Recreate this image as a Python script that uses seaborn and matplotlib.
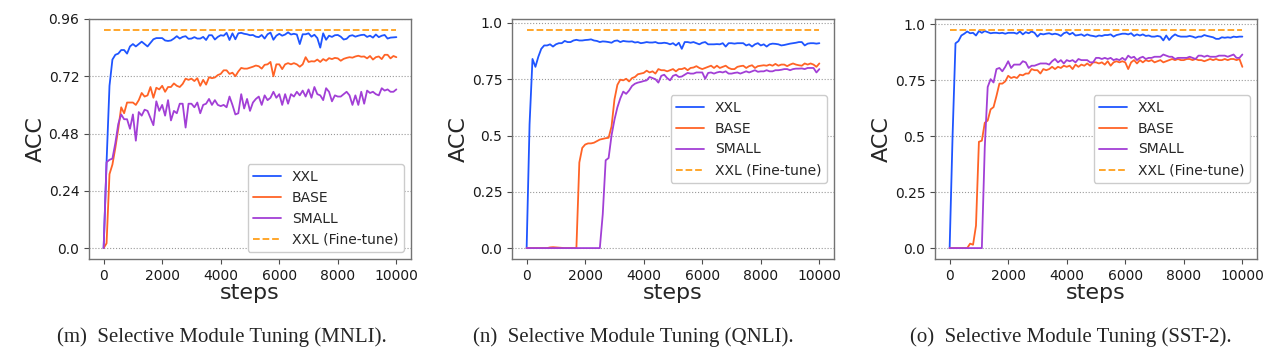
import matplotlib
matplotlib.use("Agg")
import matplotlib.pyplot as plt
import seaborn as sns
import pandas as pd

# --- dane (krok co 100) ---
steps = list(range(0, 10001, 100))

mnli_xxl = [
    0.0, 0.36, 0.68, 0.79, 0.81, 0.815, 0.83, 0.83, 0.815, 0.845,
    0.855, 0.845, 0.855, 0.865, 0.855, 0.845, 0.86, 0.875, 0.88, 0.88,
    0.88, 0.87, 0.868, 0.87, 0.878, 0.888, 0.878, 0.885, 0.888, 0.877,
    0.878, 0.884, 0.878, 0.878, 0.885, 0.872, 0.892, 0.892, 0.874, 0.885,
    0.892, 0.89, 0.902, 0.872, 0.9, 0.875, 0.9, 0.902, 0.898, 0.896,
    0.892, 0.893, 0.886, 0.884, 0.893, 0.878, 0.896, 0.903, 0.873, 0.89,
    0.898, 0.89, 0.895, 0.904, 0.895, 0.898, 0.895, 0.855, 0.896, 0.896,
    0.9, 0.886, 0.894, 0.88, 0.84, 0.9, 0.873, 0.89, 0.885, 0.892,
    0.893, 0.886, 0.874, 0.877, 0.889, 0.892, 0.886, 0.89, 0.893, 0.894,
    0.885, 0.89, 0.882, 0.895, 0.884, 0.89, 0.893, 0.878, 0.882, 0.883,
    0.884,
]
mnli_base = [
    0.0, 0.02, 0.31, 0.35, 0.42, 0.5, 0.59, 0.565, 0.61, 0.61,
    0.61, 0.6, 0.62, 0.65, 0.635, 0.64, 0.675, 0.63, 0.672, 0.665,
    0.68, 0.655, 0.675, 0.675, 0.69, 0.68, 0.675, 0.688, 0.71, 0.705,
    0.71, 0.7, 0.712, 0.68, 0.705, 0.685, 0.716, 0.712, 0.715, 0.725,
    0.73, 0.745, 0.745, 0.73, 0.735, 0.72, 0.74, 0.755, 0.752, 0.752,
    0.756, 0.76, 0.765, 0.762, 0.752, 0.768, 0.77, 0.78, 0.72, 0.77,
    0.77, 0.75, 0.77, 0.775, 0.77, 0.775, 0.77, 0.76, 0.77, 0.8,
    0.78, 0.783, 0.782, 0.79, 0.78, 0.792, 0.785, 0.796, 0.792, 0.797,
    0.795, 0.785, 0.793, 0.797, 0.8, 0.798, 0.803, 0.806, 0.802, 0.803,
    0.795, 0.805, 0.79, 0.8, 0.803, 0.792, 0.81, 0.81, 0.795, 0.805,
    0.8,
]
mnli_small = [
    0.0, 0.36, 0.37, 0.375, 0.44, 0.52, 0.56, 0.54, 0.54, 0.5,
    0.56, 0.45, 0.57, 0.555, 0.58, 0.575, 0.545, 0.515, 0.615, 0.575,
    0.6, 0.555, 0.62, 0.535, 0.575, 0.565, 0.605, 0.605, 0.505, 0.605,
    0.605, 0.59, 0.61, 0.565, 0.6, 0.605, 0.625, 0.6, 0.62, 0.6,
    0.595, 0.6, 0.59, 0.635, 0.6, 0.56, 0.565, 0.645, 0.585, 0.625,
    0.575, 0.61, 0.625, 0.635, 0.6, 0.64, 0.62, 0.63, 0.655, 0.63,
    0.645, 0.6, 0.645, 0.605, 0.645, 0.635, 0.655, 0.64, 0.66, 0.635,
    0.665, 0.63, 0.675, 0.645, 0.64, 0.62, 0.67, 0.655, 0.615, 0.64,
    0.635, 0.635, 0.645, 0.655, 0.64, 0.6, 0.64, 0.6, 0.655, 0.605,
    0.66, 0.65, 0.655, 0.645, 0.64, 0.67, 0.66, 0.665, 0.655, 0.655,
    0.665,
]
mnli_ft = 0.914

qnli_xxl = [
    0.0, 0.55, 0.84, 0.805, 0.85, 0.885, 0.9, 0.9, 0.905, 0.895,
    0.905, 0.91, 0.91, 0.92, 0.915, 0.915, 0.922, 0.925, 0.922, 0.922,
    0.924, 0.925, 0.927, 0.922, 0.92, 0.915, 0.918, 0.917, 0.915, 0.912,
    0.92, 0.922, 0.915, 0.92, 0.918, 0.917, 0.918, 0.913, 0.915, 0.91,
    0.912, 0.915, 0.913, 0.913, 0.915, 0.91, 0.91, 0.912, 0.91, 0.905,
    0.91, 0.9, 0.912, 0.885, 0.915, 0.915, 0.912, 0.915, 0.91, 0.905,
    0.912, 0.915, 0.905, 0.905, 0.905, 0.906, 0.905, 0.91, 0.895, 0.91,
    0.91, 0.908, 0.91, 0.91, 0.91, 0.9, 0.905, 0.895, 0.905, 0.91,
    0.9, 0.905, 0.895, 0.905, 0.908, 0.907, 0.905, 0.9, 0.902, 0.905,
    0.908, 0.91, 0.912, 0.915, 0.915, 0.9, 0.908, 0.91, 0.91, 0.908,
    0.91,
]
qnli_base = [
    0.0, 0.0, 0.0, 0.0, 0.0, 0.0, 0.0, 0.0, 0.003, 0.004,
    0.003, 0.002, 0.001, 0.0, 0.0, 0.0, 0.0, 0.0, 0.38, 0.445,
    0.46, 0.465, 0.465, 0.468, 0.475, 0.482, 0.485, 0.488, 0.49, 0.54,
    0.66, 0.725, 0.748, 0.745, 0.752, 0.74, 0.755, 0.76, 0.772, 0.775,
    0.778, 0.788, 0.78, 0.785, 0.775, 0.795, 0.79, 0.79, 0.785, 0.79,
    0.795, 0.785, 0.795, 0.795, 0.8, 0.79, 0.8, 0.802, 0.808, 0.8,
    0.795, 0.8, 0.805, 0.81, 0.8, 0.81, 0.8, 0.805, 0.81, 0.8,
    0.795, 0.795, 0.805, 0.808, 0.81, 0.8, 0.808, 0.812, 0.8, 0.808,
    0.81, 0.812, 0.81, 0.815, 0.81, 0.818, 0.81, 0.815, 0.815, 0.808,
    0.815, 0.82, 0.815, 0.812, 0.81, 0.82, 0.815, 0.82, 0.815, 0.805,
    0.82,
]
qnli_small = [
    0.0, 0.0, 0.0, 0.0, 0.0, 0.0, 0.0, 0.0, 0.0, 0.0,
    0.0, 0.0, 0.0, 0.0, 0.0, 0.0, 0.0, 0.0, 0.0, 0.0,
    0.0, 0.0, 0.0, 0.0, 0.0, 0.0, 0.15, 0.39, 0.4, 0.5,
    0.57, 0.625, 0.665, 0.695, 0.685, 0.7, 0.72, 0.73, 0.735, 0.738,
    0.742, 0.745, 0.76, 0.755, 0.75, 0.735, 0.765, 0.77, 0.755, 0.745,
    0.765, 0.77, 0.76, 0.762, 0.77, 0.778, 0.775, 0.775, 0.78, 0.78,
    0.78, 0.752, 0.778, 0.78, 0.775, 0.78, 0.783, 0.78, 0.785, 0.775,
    0.775, 0.778, 0.78, 0.775, 0.78, 0.785, 0.78, 0.785, 0.79, 0.783,
    0.785, 0.785, 0.79, 0.785, 0.785, 0.79, 0.79, 0.792, 0.795, 0.795,
    0.79, 0.795, 0.797, 0.797, 0.798, 0.795, 0.8, 0.8, 0.8, 0.78,
    0.795,
]
qnli_ft = 0.969

sst2_xxl = [
    0.0, 0.5, 0.915, 0.925, 0.95, 0.958, 0.968, 0.96, 0.962, 0.95,
    0.97, 0.962, 0.97, 0.965, 0.96, 0.962, 0.962, 0.96, 0.962, 0.958,
    0.962, 0.962, 0.962, 0.958, 0.968, 0.955, 0.965, 0.96, 0.968, 0.962,
    0.945, 0.958, 0.955, 0.958, 0.96, 0.955, 0.958, 0.955, 0.948, 0.96,
    0.965, 0.955, 0.962, 0.95, 0.952, 0.955, 0.948, 0.955, 0.95, 0.948,
    0.945, 0.95, 0.948, 0.952, 0.952, 0.955, 0.945, 0.952, 0.955, 0.958,
    0.958, 0.955, 0.96, 0.948, 0.955, 0.95, 0.955, 0.948, 0.95, 0.945,
    0.945, 0.948, 0.945, 0.928, 0.95, 0.93, 0.945, 0.955, 0.948, 0.945,
    0.945, 0.945, 0.948, 0.945, 0.94, 0.945, 0.945, 0.952, 0.948, 0.945,
    0.942, 0.935, 0.935, 0.942, 0.94, 0.942, 0.94, 0.945, 0.943, 0.945,
    0.945,
]
sst2_base = [
    0.0, 0.0, 0.0, 0.0, 0.0, 0.0, 0.0, 0.02, 0.015, 0.1,
    0.475, 0.48, 0.56, 0.57, 0.62, 0.63, 0.68, 0.735, 0.735, 0.745,
    0.77, 0.76, 0.765, 0.76, 0.775, 0.772, 0.78, 0.78, 0.8, 0.795,
    0.795, 0.78, 0.8, 0.795, 0.8, 0.81, 0.8, 0.81, 0.805, 0.815,
    0.81, 0.815, 0.8, 0.82, 0.81, 0.82, 0.815, 0.825, 0.815, 0.83,
    0.83, 0.825, 0.83, 0.82, 0.835, 0.815, 0.83, 0.835, 0.83, 0.835,
    0.83, 0.8, 0.83, 0.84, 0.825, 0.84, 0.83, 0.84, 0.835, 0.84,
    0.83, 0.835, 0.84, 0.83, 0.835, 0.84, 0.845, 0.84, 0.845, 0.84,
    0.84, 0.845, 0.845, 0.84, 0.845, 0.84, 0.84, 0.835, 0.84, 0.845,
    0.84, 0.845, 0.84, 0.84, 0.845, 0.84, 0.845, 0.845, 0.84, 0.845,
    0.81,
]
sst2_small = [
    0.0, 0.0, 0.0, 0.0, 0.0, 0.0, 0.0, 0.0, 0.0, 0.0,
    0.0, 0.0, 0.45, 0.72, 0.755, 0.74, 0.8, 0.805, 0.79, 0.81,
    0.835, 0.805, 0.82, 0.82, 0.82, 0.835, 0.83, 0.805, 0.815, 0.815,
    0.82, 0.825, 0.825, 0.825, 0.82, 0.835, 0.845, 0.83, 0.84, 0.825,
    0.84, 0.835, 0.84, 0.83, 0.845, 0.84, 0.84, 0.84, 0.83, 0.83,
    0.85, 0.85, 0.845, 0.85, 0.845, 0.85, 0.84, 0.845, 0.84, 0.85,
    0.84, 0.86, 0.85, 0.855, 0.84, 0.85, 0.855, 0.845, 0.85, 0.85,
    0.855, 0.855, 0.855, 0.865, 0.86, 0.855, 0.855, 0.845, 0.85, 0.85,
    0.85, 0.85, 0.855, 0.85, 0.845, 0.86, 0.86, 0.855, 0.86, 0.855,
    0.855, 0.855, 0.86, 0.86, 0.86, 0.855, 0.86, 0.865, 0.85, 0.85,
    0.865,
]
sst2_ft = 0.975

captions = [
    "(m)  Selective Module Tuning (MNLI).",
    "(n)  Selective Module Tuning (QNLI).",
    "(o)  Selective Module Tuning (SST-2).",
]
yticks_m = [0.0, 0.24, 0.48, 0.72, 0.96]
yticks_other = [0.0, 0.25, 0.5, 0.75, 1.0]
ytick_labels_m = ["0.0", "0.24", "0.48", "0.72", "0.96"]
ytick_labels_other = ["0.0", "0.25", "0.5", "0.75", "1.0"]

# --- styl ---
sns.set_style("ticks")
plt.rcParams["font.family"] = ["DejaVu Sans"]

colors = {"XXL": "#1f55ff", "BASE": "#ff6326", "SMALL": "#a23fd6"}
ft_color = "#ff9f1a"

panels = [
    (mnli_xxl, mnli_base, mnli_small, mnli_ft, yticks_m, ytick_labels_m, "lower right"),
    (qnli_xxl, qnli_base, qnli_small, qnli_ft, yticks_other, ytick_labels_other, "center right"),
    (sst2_xxl, sst2_base, sst2_small, sst2_ft, yticks_other, ytick_labels_other, "center right"),
]

fig = plt.figure(figsize=(12.69, 3.61), dpi=100)
W, H = 1269, 361
lefts = [89, 512, 935]
caption_x = [222, 633, 1071]

for i, (xxl, base, small, ft, yt, ytl, loc) in enumerate(panels):
    ax = fig.add_axes([lefts[i] / W, 1 - 259 / H, 322 / W, 240 / H])
    df = pd.DataFrame({"step": steps * 3,
                       "acc": xxl + base + small,
                       "model": ["XXL"] * len(steps) + ["BASE"] * len(steps) + ["SMALL"] * len(steps)})
    sns.lineplot(data=df, x="step", y="acc", hue="model", palette=colors,
                 linewidth=1.3, ax=ax, legend=False)
    sns.lineplot(x=[0, 10000], y=[ft, ft], color=ft_color, linestyle="--",
                 linewidth=1.3, ax=ax)

    ax.set_yticks(yt)
    ax.set_yticklabels(ytl)
    ax.set_xticks([0, 2000, 4000, 6000, 8000, 10000])
    ax.tick_params(labelsize=10, length=3.5, color="0.3", labelcolor="0.1")
    ax.grid(axis="y", linestyle=":", color="0.6", linewidth=0.8)
    ax.set_axisbelow(True)
    ax.set_xlabel("steps", fontsize=16, labelpad=0)
    ax.set_ylabel("ACC", fontsize=16, labelpad=2)
    for spine in ax.spines.values():
        spine.set_visible(True)
        spine.set_color("0.45")
        spine.set_linewidth(1.0)

    handles = [plt.Line2D([], [], color=colors["XXL"], lw=1.3),
               plt.Line2D([], [], color=colors["BASE"], lw=1.3),
               plt.Line2D([], [], color=colors["SMALL"], lw=1.3),
               plt.Line2D([], [], color=ft_color, lw=1.3, ls="--")]
    ax.legend(handles, ["XXL", "BASE", "SMALL", "XXL (Fine-tune)"], loc=loc,
              fontsize=10, frameon=True, edgecolor="0.8", framealpha=1.0)

    fig.text(caption_x[i] / W, 1 - 337 / H, captions[i], ha="center", va="center",
             fontsize=15, family="Liberation Serif")

plt.savefig("out.png", dpi=100)
